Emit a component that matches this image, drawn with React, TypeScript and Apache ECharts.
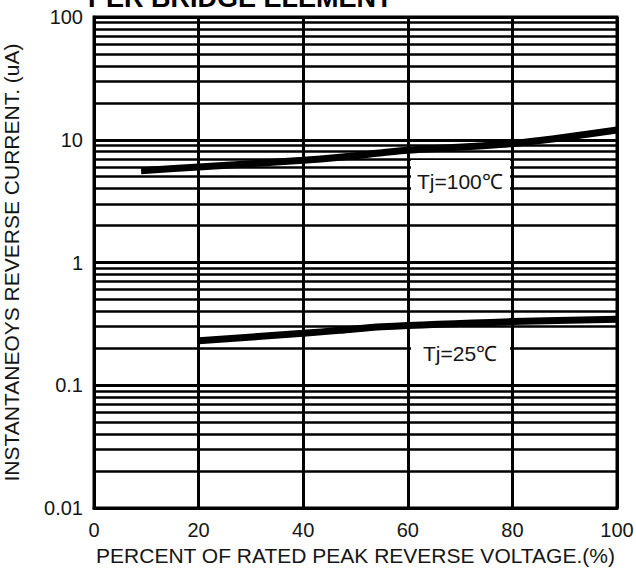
import React, { useEffect, useRef } from "react";
import * as echarts from "echarts";

const xTicks = [0, 20, 40, 60, 80, 100];
const yTicks = [0.01, 0.1, 1, 10, 100];
const pctT100 = [9, 20, 40, 47, 60, 80, 100];
const curT100 = [5.6, 6.0, 6.8, 7.2, 8.2, 9.3, 12];
const pctT25 = [20, 40, 47, 55, 80, 100];
const curT25 = [0.23, 0.265, 0.28, 0.3, 0.33, 0.345];
const seriesNames = ["Tj=100℃", "Tj=25℃"];
const titleText = "PER BRIDGE ELEMENT";
const xName = "PERCENT OF RATED PEAK REVERSE VOLTAGE.(%)";
const yName = "INSTANTANEOYS REVERSE CURRENT. (uA)";

const FONT = "Arial, 'Liberation Sans', sans-serif";
const TXT = "#151515";

export default function App() {
  const ref = useRef<HTMLDivElement>(null);
  useEffect(() => {
    if (!ref.current) return;
    const chart = echarts.init(ref.current, undefined, { renderer: "svg" });
    const zip = (xs: number[], ys: number[]) => xs.map((x, i) => [x, ys[i]]);
    chart.setOption({
      animation: false,
      backgroundColor: "#ffffff",
      grid: {
        left: 94,
        top: 17,
        right: 19,
        bottom: 61,
        show: true,
        borderColor: "#000",
        borderWidth: 3,
        containLabel: false,
        outerBoundsMode: "none",
      },
      xAxis: {
        type: "value",
        min: xTicks[0],
        max: xTicks[xTicks.length - 1],
        interval: 20,
        name: xName,
        nameLocation: "middle",
        nameGap: 36,
        nameTextStyle: { fontFamily: FONT, fontSize: 21, color: TXT },
        axisLine: { show: true, lineStyle: { color: "#000", width: 3 } },
        axisTick: { show: false },
        axisLabel: { fontFamily: FONT, fontSize: 20, color: TXT, margin: 12 },
        splitLine: { show: true, lineStyle: { color: "#000", width: 3 } },
      },
      yAxis: {
        type: "log",
        logBase: 10,
        min: yTicks[0],
        max: yTicks[yTicks.length - 1],
        name: yName,
        nameLocation: "middle",
        nameGap: 72,
        nameRotate: 90,
        nameTextStyle: { fontFamily: FONT, fontSize: 21, color: TXT },
        axisLine: { show: true, lineStyle: { color: "#000", width: 3 } },
        axisTick: { show: false },
        minorTick: { show: false, splitNumber: 9 },
        axisLabel: {
          fontFamily: FONT,
          fontSize: 20,
          color: TXT,
          margin: 11,
          formatter: (v: number) => String(v),
        },
        splitLine: { show: true, lineStyle: { color: "#000", width: 3 } },
        minorSplitLine: { show: true, lineStyle: { color: "#000", width: 2.5 } },
      },
      graphic: [
        {
          type: "text",
          left: 88,
          top: -16,
          z: 100,
          style: {
            text: titleText,
            font: `bold 27px ${FONT}`,
            fill: "#000",
          },
        },
        {
          type: "rect",
          z: 99,
          shape: { x: 411, y: 160, width: 99, height: 42 },
          style: { fill: "#fff" },
        },
        {
          type: "text",
          left: 417,
          top: 171,
          z: 100,
          style: {
            text: seriesNames[0],
            font: `21px ${FONT}`,
            fill: TXT,
          },
        },
        {
          type: "rect",
          z: 99,
          shape: { x: 411, y: 334, width: 99, height: 38 },
          style: { fill: "#fff" },
        },
        {
          type: "text",
          left: 423,
          top: 343,
          z: 100,
          style: {
            text: seriesNames[1],
            font: `21px ${FONT}`,
            fill: TXT,
          },
        },
      ],
      series: [
        {
          name: seriesNames[0],
          type: "line",
          data: zip(pctT100, curT100),
          showSymbol: false,
          symbol: "none",
          smooth: 0.3,
          lineStyle: { color: "#000", width: 7 },
          z: 5,
        },
        {
          name: seriesNames[1],
          type: "line",
          data: zip(pctT25, curT25),
          showSymbol: false,
          symbol: "none",
          smooth: 0.3,
          lineStyle: { color: "#000", width: 7 },
          z: 5,
        },
      ],
    });
    return () => chart.dispose();
  }, []);
  return (
    <div
      ref={ref}
      style={{ width: 636, height: 569, position: "absolute", left: 0, top: 0 }}
    />
  );
}
